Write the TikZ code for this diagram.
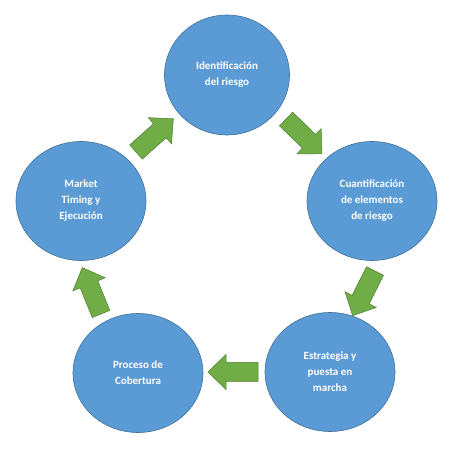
\documentclass[tikz,border=0pt]{standalone}
\usepackage{fontspec}
\setmainfont{Carlito}
\usetikzlibrary{shapes.geometric}
\definecolor{cfill}{HTML}{5B9BD5}
\definecolor{cline}{HTML}{41719C}
\definecolor{afill}{HTML}{70AD47}
\definecolor{aline}{HTML}{507E32}
\tikzset{
  x=1pt,y=1pt,
  circ/.style={ellipse, fill=cfill, draw=cline, line width=0.6pt,
    minimum width=130, minimum height=119, inner sep=0pt,
    text=white, font=\bfseries\fontsize{11}{16}\selectfont, align=center},
  blockarrow/.pic={
    \path[fill=afill, draw=aline, line width=0.5pt, line join=miter]
      (0,-9.5) -- (32,-9.5) -- (32,-17.5) -- (50,0) -- (32,17.5) -- (32,9.5) -- (0,9.5) -- cycle;
  }
}
\begin{document}
\begin{tikzpicture}
\useasboundingbox (0,0) rectangle (450,450);
\node[circ, minimum width=125, minimum height=120] (ident) at (227,375) {Identificación\\del riesgo};
\node[circ] (cuant) at (372,249) {Cuantificación\\de elementos\\de riesgo};
\node[circ] (estr) at (330,78) {Estrategia y\\puesta en\\marcha};
\node[circ] (proc) at (138,77) {Proceso de\\Cobertura};
\node[circ] (market) at (81,249) {Market\\Timing y\\Ejecución};
\coordinate (a1) at (286,331);
\coordinate (a2) at (375,179);
\coordinate (a3) at (258,78);
\coordinate (a4) at (101,136);
\coordinate (a5) at (136,298);
\pic[rotate=-44] (arr1) at (a1) {blockarrow};
\pic[rotate=-116.6] (arr2) at (a2) {blockarrow};
\pic[rotate=180] (arr3) at (a3) {blockarrow};
\pic[rotate=112] (arr4) at (a4) {blockarrow};
\pic[rotate=41.7] (arr5) at (a5) {blockarrow};
\end{tikzpicture}
\end{document}
